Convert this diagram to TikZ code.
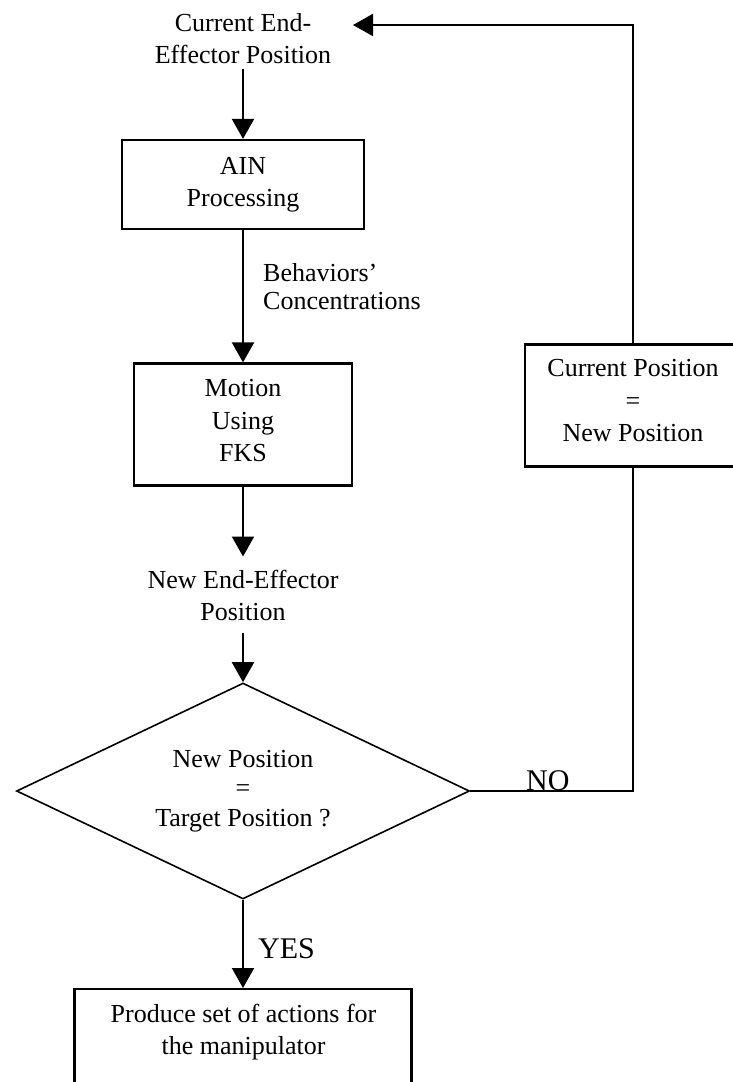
\documentclass[tikz,border=0pt]{standalone}
\usepackage{fontspec}
\setmainfont{Liberation Serif}
\usetikzlibrary{arrows.meta,shapes.geometric}
\begin{document}
\begin{tikzpicture}[x=1pt,y=-1pt,
  txt/.style={font=\fontsize{26}{32}\selectfont, align=center, inner sep=0pt},
  box/.style={draw, line width=2.2pt, rectangle, inner sep=0pt},
  arr/.style={line width=2pt, -{Triangle[length=20pt,width=22pt]}},
  ln/.style={line width=2pt},
  big/.style={font=\fontsize{30}{36}\selectfont, inner sep=0pt}]
\useasboundingbox (0,0) rectangle (733,1082);
\clip (0,0) rectangle (733,1082);

\node[txt, inner sep=5pt] (cur) at (243,38.5) {Current End-\\Effector Position};
\node[box, txt, minimum width=242pt, minimum height=89pt] (ain) at (243,184.5) {AIN\\Processing};
\node[txt, font=\fontsize{26}{28}\selectfont, anchor=west, align=left] (beh) at (263,287) {Behaviors’\\Concentrations};
\node[box, txt, font=\fontsize{26}{32.5}\selectfont, text depth=8pt,
      minimum width=218pt, minimum height=122pt] (mot) at (243,424.5) {Motion\\Using\\FKS};
\node[txt, inner sep=13pt] (nep) at (243,595) {New End-Effector\\Position};
\node[draw, diamond, aspect=2.1, txt, line width=1.6pt, font=\fontsize{26}{29.5}\selectfont,
      minimum width=453pt, minimum height=216pt] (dec) at (243,791) {New Position\\=\\Target Position ?};
\node[box, txt, font=\fontsize{26}{32.5}\selectfont, text depth=10pt,
      minimum width=216pt, minimum height=122pt] (cp) at (633,405.5) {Current Position\\=\\New Position};
\node[box, minimum width=337pt, minimum height=140pt, anchor=north] (act) at (243,988) {};
\node[txt] (acttxt) at (243.5,1032) {Produce set of actions for\\the manipulator};
\node[big, anchor=base west] (yes) at (258,958) {YES};
\node[big, anchor=base west] (no) at (526,790) {NO};
\coordinate (fb) at (353,25);

\draw[arr] (cur) -- (ain);
\draw[arr] (ain) -- (mot);
\draw[arr] (mot) -- (nep);
\draw[arr] (nep) -- (dec);
\draw[arr] (dec) -- (act);
\draw[ln] (dec.east) -| (cp.south);
\draw[arr] (cp.north) |- (fb);
\end{tikzpicture}
\end{document}
